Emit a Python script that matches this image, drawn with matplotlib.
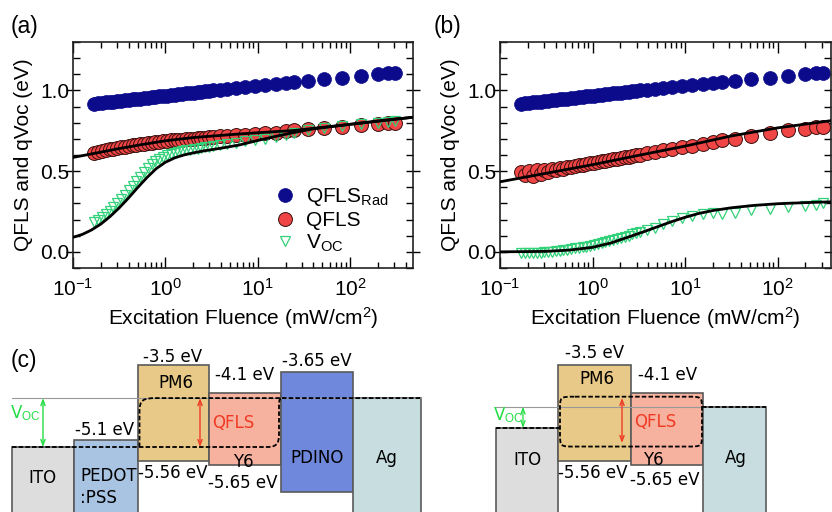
import numpy as np
import matplotlib
matplotlib.use('Agg')
import matplotlib.pyplot as plt
from matplotlib.patches import Rectangle, PathPatch
from matplotlib.path import Path
from matplotlib.ticker import MultipleLocator, LogLocator, NullFormatter

plt.rcParams['font.family'] = 'Liberation Sans'
plt.rcParams['mathtext.fontset'] = 'custom'
plt.rcParams['mathtext.rm'] = 'Liberation Sans'
plt.rcParams['mathtext.it'] = 'Liberation Sans:italic'
plt.rcParams['mathtext.bf'] = 'Liberation Sans:bold'

# excitation fluence (mW/cm2), shared by all measured series
fluence = [0.17, 0.187, 0.206, 0.226, 0.249, 0.274, 0.301, 0.331, 0.364, 0.401,
           0.441, 0.485, 0.533, 0.587, 0.645, 0.710, 0.781, 0.859, 0.945, 1.04,
           1.14, 1.26, 1.38, 1.52, 1.67, 1.84, 2.02, 2.23, 2.45, 2.69,
           2.96, 3.26, 3.9, 4.7, 5.8, 7.2, 9.3, 11.9, 15.7, 20,
           25, 35, 52, 82, 130, 200, 260, 309]

qfls_rad = [0.918, 0.921, 0.924, 0.926, 0.929, 0.931, 0.934, 0.937, 0.939, 0.942,
            0.944, 0.947, 0.950, 0.952, 0.955, 0.958, 0.960, 0.963, 0.965, 0.968,
            0.971, 0.973, 0.976, 0.979, 0.981, 0.984, 0.986, 0.989, 0.992, 0.994,
            0.997, 1.000, 1.005, 1.010, 1.015, 1.021, 1.028, 1.034, 1.040, 1.045,
            1.051, 1.059, 1.068, 1.079, 1.090, 1.100, 1.106, 1.110]

qfls_a = [0.615, 0.620, 0.625, 0.630, 0.635, 0.640, 0.644, 0.648, 0.652, 0.656,
          0.660, 0.664, 0.667, 0.670, 0.673, 0.676, 0.679, 0.682, 0.685, 0.688,
          0.690, 0.692, 0.694, 0.696, 0.698, 0.700, 0.702, 0.704, 0.706, 0.708,
          0.710, 0.712, 0.715, 0.718, 0.721, 0.725, 0.729, 0.734, 0.739, 0.746,
          0.752, 0.759, 0.766, 0.774, 0.784, 0.792, 0.796, 0.800]

voc_a = [0.185, 0.198, 0.215, 0.233, 0.255, 0.278, 0.302, 0.328, 0.355, 0.383,
         0.410, 0.437, 0.465, 0.495, 0.520, 0.543, 0.562, 0.578, 0.590, 0.598,
         0.605, 0.612, 0.618, 0.623, 0.628, 0.632, 0.636, 0.640, 0.644, 0.648,
         0.652, 0.656, 0.663, 0.670, 0.677, 0.684, 0.692, 0.700, 0.710, 0.722,
         0.735, 0.752, 0.767, 0.780, 0.791, 0.800, 0.805, 0.808]

qfls_b = [0.495, 0.478, 0.500, 0.472, 0.505, 0.480, 0.508, 0.495, 0.512, 0.505,
          0.518, 0.515, 0.524, 0.528, 0.532, 0.536, 0.541, 0.545, 0.549, 0.553,
          0.557, 0.561, 0.565, 0.569, 0.573, 0.577, 0.581, 0.585, 0.589, 0.593,
          0.597, 0.601, 0.610, 0.619, 0.628, 0.637, 0.648, 0.658, 0.669, 0.680,
          0.690, 0.702, 0.719, 0.736, 0.752, 0.763, 0.771, 0.776]

voc_b = [-0.010, -0.010, -0.009, -0.008, -0.007, -0.005, -0.003, -0.001, 0.001, 0.004,
         0.007, 0.010, 0.013, 0.017, 0.021, 0.025, 0.029, 0.033, 0.038, 0.043,
         0.048, 0.054, 0.060, 0.066, 0.073, 0.080, 0.087, 0.094, 0.101, 0.108,
         0.115, 0.122, 0.135, 0.150, 0.170, 0.190, 0.208, 0.222, 0.234, 0.238,
         0.232, 0.240, 0.258, 0.268, 0.278, 0.283, 0.290, 0.305]

# model fits
fit_qfls_a_x = [0.1, 0.178, 0.316, 0.562, 1, 2, 5, 10, 25, 40, 100, 200, 500]
fit_qfls_a_y = [0.585, 0.612, 0.640, 0.665, 0.688, 0.708, 0.726, 0.738, 0.752, 0.765, 0.790, 0.810, 0.835]
fit_voc_a_x = [0.1, 0.126, 0.158, 0.2, 0.251, 0.316, 0.398, 0.501, 0.631, 0.794, 1.0,
               1.26, 1.58, 2.0, 2.51, 3.98, 6.31, 10, 15.8, 25, 40, 100, 200, 500]
fit_voc_a_y = [0.09, 0.108, 0.135, 0.172, 0.218, 0.272, 0.333, 0.398, 0.46, 0.515, 0.555,
               0.582, 0.600, 0.613, 0.624, 0.642, 0.662, 0.690, 0.716, 0.740, 0.762, 0.790, 0.810, 0.835]
fit_qfls_b_x = [0.1, 0.316, 1, 3.16, 10, 31.6, 100, 500]
fit_qfls_b_y = [0.434, 0.487, 0.540, 0.598, 0.655, 0.718, 0.768, 0.822]
fit_voc_b_x = [0.1, 0.316, 0.562, 1, 1.58, 2.51, 3.55, 5.01, 7.08, 10, 14.1, 20, 31.6, 56.2, 100, 200, 500]
fit_voc_b_y = [0.0, 0.003, 0.011, 0.028, 0.055, 0.094, 0.124, 0.155, 0.186, 0.214, 0.238, 0.256,
               0.273, 0.288, 0.298, 0.305, 0.312]

# energy diagram levels (eV)
layers_l = ['ITO', 'PEDOT\n:PSS', 'PM6', 'Y6', 'PDINO', 'Ag']
top_l = [-5.26, -5.1, -3.5, -4.1, -3.65, -4.21]
bot_l = [-7.5, -7.5, -5.56, -5.65, -6.22, -7.5]
layers_r = ['ITO', 'PM6', 'Y6', 'Ag']
top_r = [-4.85, -3.5, -4.1, -4.395]
bot_r = [-7.5, -5.56, -5.65, -7.5]

BLUE = '#0b0b8c'
RED = '#f04545'
GREEN = '#33d17a'
fs = 15

W, H = 832, 512
fig = plt.figure(figsize=(W / 100, H / 100), dpi=100)


def style_axes(ax, xmax):
    ax.set_xscale('log')
    ax.set_xlim(0.1, xmax)
    ax.set_ylim(-0.1, 1.3)
    ax.yaxis.set_major_locator(MultipleLocator(0.5))
    ax.yaxis.set_minor_locator(MultipleLocator(0.1))
    ax.xaxis.set_major_locator(LogLocator(base=10, numticks=10))
    ax.xaxis.set_minor_locator(LogLocator(base=10, subs=np.arange(2, 10), numticks=10))
    ax.xaxis.set_minor_formatter(NullFormatter())
    ax.tick_params(axis='x', which='major', direction='in', length=8, width=1,
                   top=True, labelsize=fs, pad=7)
    ax.tick_params(axis='x', which='minor', direction='in', length=4.5, width=1, top=True)
    ax.tick_params(axis='y', which='major', direction='inout', length=10, width=1,
                   right=True, labelsize=fs, pad=-2.5)
    ax.tick_params(axis='y', which='minor', direction='in', length=5, width=1, right=True)
    for s in ax.spines.values():
        s.set_linewidth(1.2)
        s.set_color('#222222')
    ax.set_ylabel('QFLS and qVoc (eV)', fontsize=fs)
    ax.set_xlabel('Excitation Fluence (mW/cm$^2$)', fontsize=fs)
    ax.xaxis.set_label_coords(0.5, -0.165)


def draw_panel(ax, qfls, voc, fq_x, fq_y, fv_x, fv_y):
    ax.plot(fluence, qfls_rad, 'o', color=BLUE, ms=10, mec=BLUE, mew=0.5,
            label='QFLS$_{\\rm Rad}$', zorder=2)
    ax.plot(fluence, qfls, 'o', color=RED, ms=10, mec='#3a1010', mew=0.7,
            label='QFLS', zorder=3)
    ax.plot(fluence, voc, 'v', color=GREEN, mfc='none', ms=7.5, mew=0.9,
            label='V$_{\\rm OC}$', zorder=4)
    ax.plot(fq_x, fq_y, '-', color='black', lw=2, zorder=5)
    ax.plot(fv_x, fv_y, '-', color='black', lw=2, zorder=5)


ax_a = fig.add_axes([73 / W, 1 - 268 / H, 340 / W, 226 / H])
draw_panel(ax_a, qfls_a, voc_a, fit_qfls_a_x, fit_qfls_a_y, fit_voc_a_x, fit_voc_a_y)
style_axes(ax_a, 480)
ax_a.yaxis.set_label_coords(-0.118, 0.5)
ax_a.legend(loc='center left', bbox_to_anchor=(0.594, 0.212), frameon=False,
            fontsize=fs, handlelength=1.0, handletextpad=0.5, labelspacing=0.12,
            borderpad=0, borderaxespad=0)

ax_b = fig.add_axes([500 / W, 1 - 268 / H, 331 / W, 226 / H])
draw_panel(ax_b, qfls_b, voc_b, fit_qfls_b_x, fit_qfls_b_y, fit_voc_b_x, fit_voc_b_y)
style_axes(ax_b, 378)
ax_b.yaxis.set_label_coords(-0.121, 0.5)

fig.text(11 / W, 1 - 27 / H, '(a)', fontsize=16.5, va='center', ha='left')
fig.text(434 / W, 1 - 27 / H, '(b)', fontsize=16.5, va='center', ha='left')
fig.text(11 / W, 1 - 360 / H, '(c)', fontsize=16.5, va='center', ha='left')

# ---------------- energy diagrams ----------------
PX_EV = 46.6


def E(py):
    # pixel row of the picture -> energy on the diagram scale
    return -3.5 - (py - 365) / PX_EV


ax_c = fig.add_axes([0, 0, 1, 182 / H])
ax_c.set_xlim(0, W)
ax_c.set_ylim(E(512), E(330))
ax_c.axis('off')

colors = {'ITO': '#dddddd', 'PEDOT\n:PSS': '#a9c3e3', 'PM6': '#e9c987',
          'Y6': '#f7b19f', 'PDINO': '#6f88db', 'Ag': '#c7dde0'}
edge = '#5a5a5a'

xs_l = [12, 74, 138, 209, 281, 353, 421]
xs_r = [496, 558, 631, 703, 766]
for names, tops, bots, xs in [(layers_l, top_l, bot_l, xs_l), (layers_r, top_r, bot_r, xs_r)]:
    for i, n in enumerate(names):
        ax_c.add_patch(Rectangle((xs[i], bots[i]), xs[i + 1] - xs[i], tops[i] - bots[i],
                                 facecolor=colors[n], edgecolor=edge, lw=1.2, zorder=1))

dash = dict(color='black', lw=1.3, ls=(0, (2.5, 1.2)), zorder=4)
dkw = dict(facecolor='none', edgecolor='black', lw=1.3, ls=(0, (2.5, 1.2)), zorder=4)

# left diagram quasi-Fermi levels
Eh, Ee = top_l[0], top_l[5]
ax_c.plot([12, 421], [Ee, Ee], color='#999999', lw=0.8, zorder=3)
ax_c.plot([12, 266], [Eh, Eh], **dash)
p1 = Path([(139.5, Eh), (139.5, Ee - 0.3), (139.5, Ee - 0.03), (143, Ee), (157, Ee), (421, Ee)],
          [Path.MOVETO, Path.LINETO, Path.CURVE4, Path.CURVE4, Path.CURVE4, Path.LINETO])
ax_c.add_patch(PathPatch(p1, **dkw))
p2 = Path([(266, Eh), (276, Eh), (279, Eh + 0.05), (279, Eh + 0.28), (279, Ee - 0.15),
           (279, Ee - 0.02), (280, Ee), (284, Ee)],
          [Path.MOVETO, Path.CURVE4, Path.CURVE4, Path.CURVE4, Path.LINETO,
           Path.CURVE4, Path.CURVE4, Path.CURVE4])
ax_c.add_patch(PathPatch(p2, **dkw))

# right diagram quasi-Fermi levels
ax_c.plot([496, 703], [top_r[3], top_r[3]], color='#999999', lw=0.8, zorder=3)
ax_c.plot([496, 560], [top_r[0], top_r[0]], **dash)
ax_c.plot([702, 766], [top_r[3], top_r[3]], **dash)
x0, x1, y0, y1, rx, ry = 560, 702, -5.25, -4.18, 15, 0.28
loop = Path([(x0 + rx, y1), (x1 - rx, y1), (x1, y1), (x1, y1), (x1, y1 - ry),
             (x1, y0 + ry), (x1, y0), (x1, y0), (x1 - rx, y0),
             (x0 + rx, y0), (x0, y0), (x0, y0), (x0, y0 + ry),
             (x0, y1 - ry), (x0, y1), (x0, y1), (x0 + rx, y1)],
            [Path.MOVETO, Path.LINETO, Path.CURVE4, Path.CURVE4, Path.CURVE4,
             Path.LINETO, Path.CURVE4, Path.CURVE4, Path.CURVE4,
             Path.LINETO, Path.CURVE4, Path.CURVE4, Path.CURVE4,
             Path.LINETO, Path.CURVE4, Path.CURVE4, Path.CURVE4])
ax_c.add_patch(PathPatch(loop, **dkw))

GRN = '#22dd44'
QRED = '#f03a24'


def arrow(x, ya, yb, c, lw=1.0):
    ax_c.annotate('', xy=(x, ya), xytext=(x, yb),
                  arrowprops=dict(arrowstyle='<->,head_length=0.4,head_width=0.15',
                                  color=c, lw=lw, shrinkA=0, shrinkB=0), zorder=5)


arrow(43, Ee, Eh, GRN)
arrow(200, Ee, Eh, QRED)
arrow(523, top_r[3], top_r[0], GRN, 0.9)
arrow(622, E(398), E(443), QRED)

dfs = 12
tk = dict(family='DejaVu Sans', fontsize=dfs, ha='center', va='center', zorder=6)
# left diagram labels
ax_c.text(173, E(357), '-3.5 eV', **tk)
ax_c.text(245, E(375), '-4.1 eV', **tk)
ax_c.text(317, E(361), '-3.65 eV', **tk)
ax_c.text(105, E(430), '-5.1 eV', **tk)
ax_c.text(173, E(473), '-5.56 eV', **tk)
ax_c.text(243, E(483), '-5.65 eV', **tk)
ax_c.text(176, E(383), 'PM6', **tk)
ax_c.text(243, E(462), 'Y6', **tk)
ax_c.text(317, E(458), 'PDINO', **tk)
ax_c.text(387, E(458), 'Ag', **tk)
ax_c.text(42, E(478), 'ITO', **tk)
ax_c.text(80, E(487), 'PEDOT\n:PSS', family='DejaVu Sans', fontsize=dfs, ha='left',
          va='center', linespacing=1.25, zorder=6)
ax_c.text(233, E(423), 'QFLS', color=QRED, **tk)
ax_c.text(25, E(413), 'V$_{\\rm OC}$', color=GRN, **tk)
# right diagram labels
ax_c.text(595, E(353), '-3.5 eV', **tk)
ax_c.text(668, E(375), '-4.1 eV', **tk)
ax_c.text(593, E(473), '-5.56 eV', **tk)
ax_c.text(665, E(480), '-5.65 eV', **tk)
ax_c.text(597, E(379), 'PM6', **tk)
ax_c.text(653, E(460), 'Y6', **tk)
ax_c.text(527, E(460), 'ITO', **tk)
ax_c.text(736, E(458), 'Ag', **tk)
ax_c.text(655, E(422), 'QFLS', color=QRED, **tk)
ax_c.text(508, E(415), 'V$_{\\rm OC}$', color=GRN, **tk)

fig.savefig('out.png', dpi=100)
